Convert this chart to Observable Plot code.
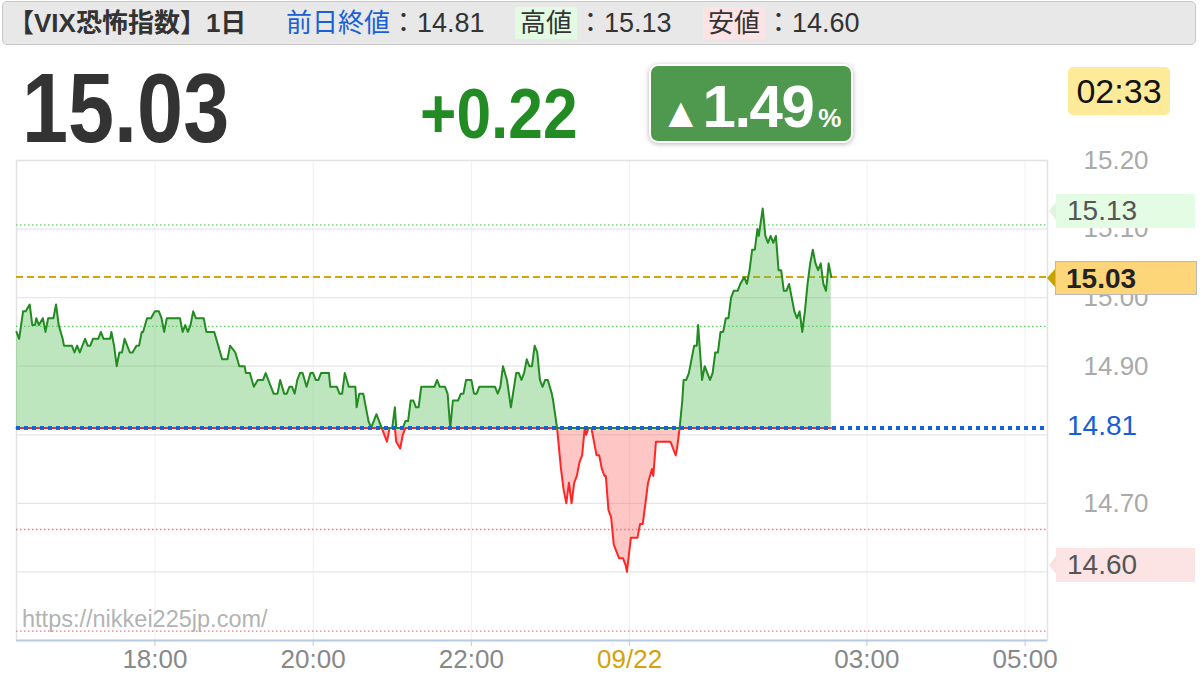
<!DOCTYPE html>
<html><head><meta charset="utf-8">
<script src="https://cdn.jsdelivr.net/npm/d3@7"></script>
<script src="https://cdn.jsdelivr.net/npm/@observablehq/plot@0.6"></script>
<style>
body{margin:0;background:#fff;font-family:"Liberation Sans",Arial,"Noto Sans CJK JP",sans-serif;}
#root{position:relative;width:1200px;height:693px;overflow:hidden;background:#fff;}
.bar{position:absolute;left:2px;top:1px;width:1194px;height:44px;background:#e8e8e8;border:1px solid #c8c8c8;border-radius:5px;box-sizing:border-box;}
.hd{position:absolute;top:1px;height:44px;line-height:44px;font-size:26px;color:#333;white-space:nowrap;}
.hd .v{font-size:27px;}
.hd b{font-weight:bold;}
.tag{display:inline-block;line-height:32px;padding:0 5px;}
.big{position:absolute;left:22px;top:59px;font-size:98px;line-height:98px;font-weight:bold;color:#333;transform:scaleX(0.845);transform-origin:left top;white-space:nowrap;}
.chg{position:absolute;left:420px;top:79px;font-size:70px;line-height:70px;font-weight:bold;color:#238b23;transform:scaleX(0.89);transform-origin:left top;white-space:nowrap;}
.badge{position:absolute;left:651px;top:66px;width:200px;height:75px;background:#4f994f;border-radius:7px;box-shadow:0 0 0 2px #fff,0 1px 5px 2px rgba(0,0,0,.3);}
.badge .in{position:absolute;left:9px;top:11px;line-height:60px;white-space:nowrap;color:#fff;font-weight:bold;}
.badge .tri{font-size:42px;}
.badge .num{font-size:60px;letter-spacing:-1.5px;margin-left:1px;}
.badge .pc{font-size:26px;margin-left:5px;}
.clock{position:absolute;left:1068px;top:67px;width:102px;height:48px;background:#feeb99;border-radius:5px;text-align:center;line-height:48px;font-size:34px;color:#111;}
.wm{position:absolute;left:22px;top:606px;font-size:23.5px;color:#b3b3b3;}
.lbl{position:absolute;box-sizing:border-box;font-size:28px;white-space:nowrap;}
.ptr{position:absolute;width:0;height:0;border-top:9px solid transparent;border-bottom:9px solid transparent;}
</style></head>
<body><div id="root">
<div class="bar"></div>
<div class="hd" style="left:8px"><b>【VIX恐怖指数】1日</b></div>
<div class="hd" style="left:286px"><span style="color:#1a5fd6">前日終値</span><span class="v" id="hPrev"></span></div>
<div class="hd" style="left:515px"><span class="tag" style="background:#e3fbe3">高値</span><span class="v" id="hHigh"></span></div>
<div class="hd" style="left:703px"><span class="tag" style="background:#fde3e3">安値</span><span class="v" id="hLow"></span></div>
<div class="big" id="bigLast"></div>
<div class="chg" id="chg"></div>
<div class="badge"><div class="in"><span class="tri">▲</span><span class="num" id="pct"></span><span class="pc">%</span></div></div>
<div class="clock" id="clock"></div>
</div>
<script>
// ---- data ----
const prevClose = 14.81, highVal = 15.13, lowVal = 14.60, lastVal = 15.03, lastTime = "02:33";
const times = [
 "16:15","16:17","16:20","16:22","16:25","16:27","16:29","16:30","16:32","16:35","16:37","16:39","16:43","16:45","16:47","16:50","16:51","16:57","16:59",
 "17:01","17:03","17:07","17:09","17:11","17:13","17:17","17:19","17:21","17:26","17:27","17:29","17:31","17:33","17:35","17:37","17:41","17:43","17:46","17:48","17:50","17:51","17:54","17:57",
 "18:00","18:03","18:05","18:07","18:09","18:19","18:21","18:23","18:25","18:27","18:29","18:31","18:37","18:39","18:45","18:48","18:51","18:55","18:57",
 "19:01","19:04","19:08","19:09","19:12","19:15","19:18","19:22","19:24","19:30","19:33","19:35","19:38","19:40","19:42","19:44","19:46","19:48","19:50","19:52","19:55","19:58",
 "20:00","20:02","20:04","20:06","20:12","20:13","20:18","20:20","20:22","20:24","20:27","20:32","20:33","20:35","20:38","20:42","20:44","20:48","20:52","20:56","20:58",
 "21:00","21:02","21:03","21:06","21:08","21:10","21:12","21:14","21:16","21:18","21:20","21:22","21:32","21:34","21:36","21:40","21:42","21:44","21:46","21:50","21:52","21:54","21:56",
 "22:00","22:02","22:04","22:06","22:18","22:20","22:22","22:24","22:27","22:30","22:34","22:36","22:38","22:40","22:42","22:44","22:46","22:48","22:50","22:52","22:54","22:56","22:58",
 "23:01","23:02","23:05","23:08","23:10","23:12","23:14","23:16","23:18","23:20","23:22","23:24","23:26","23:27","23:29","23:31","23:33","23:35","23:37","23:39","23:41","23:42","23:44","23:46","23:48","23:50","23:52","23:55","23:57","23:58",
 "00:01","00:03","00:06","00:08","00:10","00:12","00:14","00:17","00:18","00:20","00:23","00:31","00:33","00:35","00:36","00:38","00:40","00:41","00:43","00:45","00:49","00:51","00:52","00:55","00:57","00:59",
 "01:01","01:03","01:05","01:07","01:09","01:11","01:13","01:15","01:17","01:19","01:22","01:24","01:27","01:29","01:31","01:33","01:35","01:37","01:38","01:41","01:43","01:45","01:47","01:49","01:51","01:53","01:55","01:57","01:59",
 "02:01","02:03","02:05","02:07","02:09","02:11","02:13","02:15","02:17","02:19","02:21","02:23","02:25","02:27","02:29","02:31","02:33"
];
const vix = [
 14.95,14.94,14.98,14.98,14.99,14.96,14.96,14.97,14.96,14.97,14.95,14.97,14.97,14.99,14.96,14.94,14.93,14.93,14.92,
 14.93,14.92,14.94,14.93,14.93,14.94,14.94,14.95,14.94,14.94,14.95,14.93,14.90,14.92,14.92,14.94,14.92,14.92,14.93,14.93,14.95,14.95,14.97,14.97,
 14.98,14.98,14.97,14.95,14.97,14.97,14.95,14.96,14.95,14.96,14.98,14.97,14.97,14.95,14.95,14.93,14.91,14.91,14.93,
 14.92,14.90,14.90,14.89,14.89,14.87,14.88,14.88,14.89,14.86,14.86,14.88,14.86,14.86,14.87,14.87,14.86,14.88,14.89,14.89,14.87,14.89,
 14.89,14.88,14.88,14.89,14.89,14.87,14.87,14.86,14.86,14.89,14.87,14.87,14.84,14.86,14.86,14.82,14.81,14.83,14.81,14.79,14.81,
 14.81,14.84,14.79,14.78,14.80,14.82,14.82,14.85,14.85,14.84,14.84,14.87,14.87,14.88,14.87,14.87,14.86,14.81,14.85,14.85,14.86,14.86,14.88,
 14.88,14.86,14.86,14.87,14.87,14.86,14.87,14.90,14.88,14.84,14.89,14.89,14.88,14.89,14.91,14.90,14.90,14.93,14.92,14.88,14.87,14.88,14.88,
 14.86,14.85,14.81,14.75,14.72,14.70,14.73,14.70,14.73,14.74,14.76,14.77,14.81,14.80,14.81,14.81,14.79,14.77,14.77,14.75,14.74,14.74,14.69,14.68,14.64,14.63,14.62,14.62,14.61,14.60,
 14.65,14.65,14.65,14.67,14.67,14.70,14.73,14.75,14.74,14.79,14.79,14.79,14.78,14.77,14.78,14.81,14.85,14.88,14.88,14.89,14.93,14.93,14.96,14.88,14.90,14.89,
 14.88,14.89,14.92,14.92,14.95,14.95,14.97,14.97,15.00,15.01,15.01,15.02,15.03,15.02,15.04,15.07,15.07,15.10,15.09,15.13,15.09,15.08,15.09,15.08,15.09,15.04,15.04,15.01,15.01,
 15.02,15.00,14.98,14.97,14.98,14.95,14.98,15.02,15.05,15.07,15.05,15.04,15.05,15.02,15.01,15.05,15.03
];
const xDomain = ["16:15", "05:17"];
const xTickTimes = ["18:00","20:00","22:00","00:00","03:00","05:00"];
const xTickLabels = ["18:00","20:00","22:00","09/22","03:00","05:00"];
const yDomain = [14.50, 15.20];
const yTicks = [15.20, 15.10, 15.00, 14.90, 14.70];
const yGridLevels = [15.20, 15.10, 15.00, 14.90, 14.80, 14.70, 14.60];
const pctBands = [2, 1, -1, -2];
const watermark = "https://nikkei225jp.com/";

// ---- build ----
function toDate(s){ const [h,m] = s.split(":").map(Number); return new Date(Date.UTC(2023, 8, h >= 12 ? 21 : 22, h, m)); }
const data = times.map((t,i) => ({t: toDate(t), v: vix[i]}));
const xTicks = xTickTimes.map(toDate);
const labelOf = new Map(xTicks.map((d,i) => [+d, xTickLabels[i]]));
const change = lastVal - prevClose;

document.getElementById("hPrev").textContent = "：" + prevClose.toFixed(2);
document.getElementById("hHigh").textContent = "：" + highVal.toFixed(2);
document.getElementById("hLow").textContent = "：" + lowVal.toFixed(2);
document.getElementById("bigLast").textContent = lastVal.toFixed(2);
document.getElementById("chg").textContent = (change >= 0 ? "+" : "") + change.toFixed(2);
document.getElementById("pct").textContent = (Math.abs(change) / prevClose * 100).toFixed(2);
document.getElementById("clock").textContent = lastTime;

const up = pctBands.filter(p => p > 0), dn = pctBands.filter(p => p < 0);
const band = p => prevClose * (1 + p / 100);

const chart = Plot.plot({
  width: 1200, height: 693,
  marginTop: 160, marginBottom: 53, marginLeft: 16, marginRight: 153,
  style: {position: "absolute", left: "0px", top: "0px", background: "transparent",
          fontFamily: "'Liberation Sans', Arial, sans-serif", fontSize: "26px", color: "#aaaaaa", overflow: "visible"},
  x: {type: "utc", domain: xDomain.map(toDate), ticks: xTicks, tickFormat: d => labelOf.get(+d) ?? "",
      tickSize: 6, tickPadding: 3, label: null},
  y: {domain: yDomain, axis: "right", ticks: yTicks, tickFormat: d => d.toFixed(2), tickSize: 0, tickPadding: 36, label: null},
  marks: [
    Plot.ruleX(xTicks, {x: d => d, stroke: "#f0f0f0", strokeWidth: 1}),
    Plot.ruleY(yGridLevels, {y: d => d, stroke: "#e6e6e6", strokeWidth: 1.2}),
    Plot.frame({stroke: "#e2e2e2", strokeWidth: 1.5}),
    Plot.ruleY(up, {y: band, stroke: "#5fcf5f", strokeWidth: 1.3, strokeDasharray: "1.5,2.5"}),
    Plot.ruleY(dn, {y: band, stroke: "#f07a7a", strokeWidth: 1.3, strokeDasharray: "1.5,2.5"}),
    Plot.ruleY([lastVal], {y: d => d, stroke: "#d4a50a", strokeWidth: 2, strokeDasharray: "7,4"}),
    Plot.areaY(data, {x: "t", y1: () => prevClose, y2: d => Math.max(d.v, prevClose), fill: "#5cc05c", fillOpacity: 0.4}),
    Plot.areaY(data, {x: "t", y1: () => prevClose, y2: d => Math.min(d.v, prevClose), fill: "#ff6a6a", fillOpacity: 0.38}),
    Plot.line(data, {x: "t", y: d => Math.min(d.v, prevClose), stroke: "#ff2626", strokeWidth: 2}),
    Plot.line(data, {x: "t", y: d => Math.max(d.v, prevClose), stroke: "#228b22", strokeWidth: 2}),
    Plot.ruleY([prevClose], {y: d => d, stroke: "#1463d8", strokeWidth: 4, strokeDasharray: "4,4"}),
    Plot.ruleY([yDomain[0]], {y: d => d, stroke: "#b9cbe3", strokeWidth: 2})
  ]
});
const root = document.getElementById("root");
root.appendChild(chart);
const svg = chart.tagName.toLowerCase() === "svg" ? chart : chart.querySelector("svg");

// style axes
svg.querySelectorAll("text").forEach(el => {
  const s = el.textContent;
  if (xTickLabels.includes(s)) {
    el.setAttribute("fill", s === "09/22" ? "#d4a20c" : "#888888");
    el.style.fill = s === "09/22" ? "#d4a20c" : "#888888";
    el.style.fontSize = "26px";
  } else if (yTicks.map(d => d.toFixed(2)).includes(s)) {
    el.style.fill = "#aaaaaa";
    el.style.fontSize = "26px";
  }
});
svg.querySelectorAll('[aria-label="x-axis tick"], [aria-label="x-axis"] line, [aria-label="x-axis"] path').forEach(el => {
  el.setAttribute("stroke", "#b9cbe3"); el.style.stroke = "#b9cbe3"; el.style.strokeOpacity = 1;
});

// labels on the right, placed through the y scale
const sy = chart.scale("y");
const Y = v => (sy.apply ? sy.apply(v) : d3.scaleLinear(sy.domain, sy.range)(v));
function addBox(v, opts) {
  const y = Y(v) + (opts.shift || 0);
  const d = document.createElement("div");
  d.className = "lbl";
  Object.assign(d.style, {left: opts.left + "px", top: (y - opts.h / 2) + "px", width: opts.w + "px", height: opts.h + "px",
    lineHeight: opts.h + "px", paddingLeft: opts.pad + "px", background: opts.bg || "transparent", color: opts.color,
    fontWeight: opts.bold ? "bold" : "normal", border: opts.border || "none"});
  d.textContent = v.toFixed(2);
  if (opts.ptr) {
    const p = document.createElement("div");
    p.className = "ptr";
    Object.assign(p.style, {left: (opts.left - opts.ptrW) + "px", top: (y - 9) + "px", borderRight: opts.ptrW + "px solid " + opts.ptr});
    root.appendChild(p);
  }
  root.appendChild(d);
}
addBox(highVal, {left: 1056, w: 139, h: 34, pad: 11, bg: "#e4fbe4", color: "#555", ptr: "#dff5df", ptrW: 7, shift: 3});
addBox(lastVal, {left: 1055, w: 142, h: 34, pad: 10, bg: "#fdd67a", color: "#222", bold: true, border: "1px solid #b9b9b9", ptr: "#c9a200", ptrW: 8, shift: 1});
addBox(prevClose, {left: 1056, w: 120, h: 34, pad: 11, color: "#1460d6", shift: -1});
addBox(lowVal, {left: 1056, w: 139, h: 34, pad: 11, bg: "#fde4e4", color: "#555", ptr: "#fbe0e0", ptrW: 7, shift: -6});

const wm = document.createElement("div");
wm.className = "wm"; wm.textContent = watermark;
root.appendChild(wm);
</script>
</body></html>
